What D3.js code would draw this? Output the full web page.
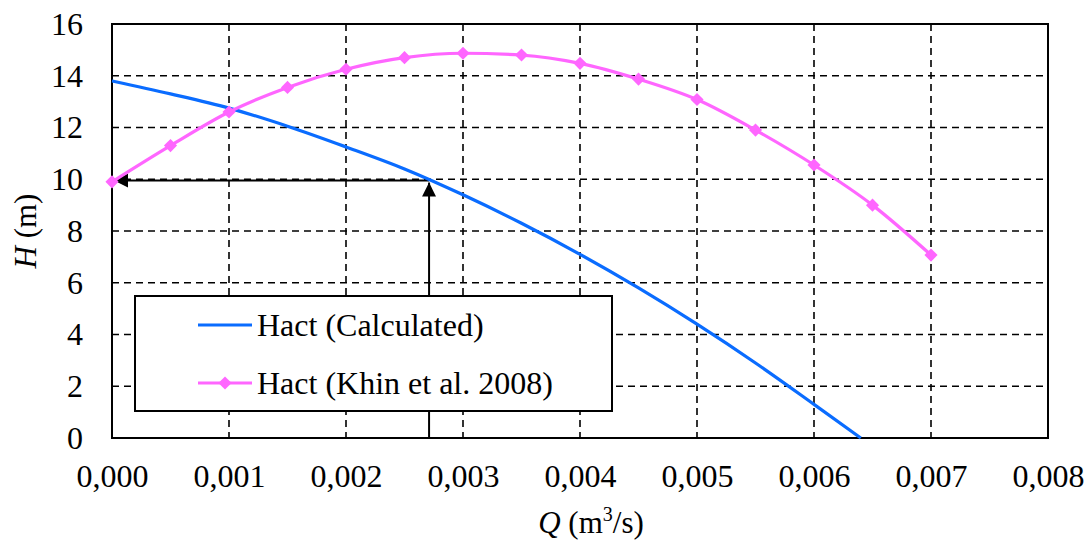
<!DOCTYPE html>
<html>
<head>
<meta charset="utf-8">
<script src="https://cdn.jsdelivr.net/npm/d3@7"></script>
<style>
  html, body { margin: 0; padding: 0; background: #fff; }
  svg { display: block; }
  svg text { font-family: 'Liberation Serif', 'Times New Roman', Times, serif !important; fill: #000; }
</style>
</head>
<body>
<svg id="chart" width="1088" height="543"></svg>
<script>
// Pump head H (m) against flow Q (m³/s)
const qCalc = [0, 0.0005, 0.001, 0.0015, 0.002, 0.0025, 0.003, 0.0035, 0.004, 0.0045, 0.005, 0.0055, 0.006, 0.0064];
const hCalc = [13.8, 13.3, 12.75, 12.05, 11.25, 10.4, 9.4, 8.3, 7.1, 5.8, 4.4, 2.9, 1.3, 0];

const qKhin = [0, 0.0005, 0.001, 0.0015, 0.002, 0.0025, 0.003, 0.0035, 0.004, 0.0045, 0.005, 0.0055, 0.006, 0.0065, 0.007];
const hKhin = [9.9, 11.3, 12.6, 13.55, 14.25, 14.7, 14.87, 14.8, 14.48, 13.87, 13.08, 11.9, 10.55, 9.0, 7.07];

const xTicks = [0, 0.001, 0.002, 0.003, 0.004, 0.005, 0.006, 0.007, 0.008];
const yTicks = [0, 2, 4, 6, 8, 10, 12, 14, 16];

// Operating point
const opQ = 0.00271;
const opH = 9.95;

const seriesNames = ["Hact (Calculated)", "Hact (Khin et al. 2008)"];
const colCalc = "#0a6cff";
const colKhin = "#ff66ff";

const svg = d3.select("#chart");
const m = { left: 112, right: 1048, top: 24, bottom: 438 };

const x = d3.scaleLinear().domain([0, 0.008]).range([m.left, m.right]);
const y = d3.scaleLinear().domain([0, 16]).range([m.bottom, m.top]);

const fmtX = v => d3.format(".3f")(v).replace(".", ",");

// Dashed grid
const grid = svg.append("g");
grid.selectAll(".gx").data(xTicks.slice(1, -1)).join("line")
  .attr("x1", d => x(d)).attr("x2", d => x(d))
  .attr("y1", m.top).attr("y2", m.bottom)
  .attr("stroke", "#000").attr("stroke-width", 1.6).attr("stroke-dasharray", "7,5");
grid.selectAll(".gy").data(yTicks.slice(1, -1)).join("line")
  .attr("y1", d => y(d)).attr("y2", d => y(d))
  .attr("x1", m.left).attr("x2", m.right)
  .attr("stroke", "#000").attr("stroke-width", 1.6).attr("stroke-dasharray", "7,5");

// Plot frame
svg.append("rect")
  .attr("x", m.left).attr("y", m.top)
  .attr("width", m.right - m.left).attr("height", m.bottom - m.top)
  .attr("fill", "none").attr("stroke", "#000").attr("stroke-width", 2);

// Axes (labels only; frame draws the lines)
const xAxis = svg.append("g").attr("transform", `translate(0,${m.bottom})`)
  .call(d3.axisBottom(x).tickValues(xTicks).tickFormat(fmtX).tickSize(0).tickPadding(26));
xAxis.select(".domain").remove();
xAxis.attr("font-family", null).attr("font-size", null);
xAxis.selectAll("text").style("font-size", "32px");

const yAxis = svg.append("g").attr("transform", `translate(${m.left},0)`)
  .call(d3.axisLeft(y).tickValues(yTicks).tickFormat(d3.format("d")).tickSize(0).tickPadding(29));
yAxis.select(".domain").remove();
yAxis.attr("font-family", null).attr("font-size", null);
yAxis.selectAll("text").style("font-size", "32px");

// Axis titles
const yTitle = svg.append("text")
  .attr("transform", `translate(36,${(m.top + m.bottom) / 2}) rotate(-90)`)
  .attr("text-anchor", "middle").style("font-size", "31px");
yTitle.append("tspan").style("font-style", "italic").text("H");
yTitle.append("tspan").text(" (m)");

const xTitle = svg.append("text")
  .attr("x", (m.left + m.right) / 2 + 11).attr("y", 533)
  .attr("text-anchor", "middle").style("font-size", "31px");
xTitle.append("tspan").style("font-style", "italic").text("Q");
xTitle.append("tspan").text(" (m");
xTitle.append("tspan").attr("dy", -12).style("font-size", "20px").text("3");
xTitle.append("tspan").attr("dy", 12).text("/s)");

// Series
const line = d3.line().x(d => x(d[0])).y(d => y(d[1])).curve(d3.curveMonotoneX);
const calcPts = qCalc.map((q, i) => [q, hCalc[i]]);
const khinPts = qKhin.map((q, i) => [q, hKhin[i]]);

// Operating point arrows
const defs = svg.append("defs");
defs.append("marker").attr("id", "arrowhead")
  .attr("viewBox", "0 0 10 10").attr("refX", 10).attr("refY", 5)
  .attr("markerWidth", 16).attr("markerHeight", 14).attr("markerUnits", "userSpaceOnUse")
  .attr("orient", "auto")
  .append("path").attr("d", "M0,0 L10,5 L0,10 Z").attr("fill", "#000");

svg.append("line")
  .attr("x1", x(opQ)).attr("y1", y(opH))
  .attr("x2", x(0) + 2).attr("y2", y(opH))
  .attr("stroke", "#000").attr("stroke-width", 2).attr("marker-end", "url(#arrowhead)");
svg.append("line")
  .attr("x1", x(opQ)).attr("y1", y(0))
  .attr("x2", x(opQ)).attr("y2", y(opH) + 2)
  .attr("stroke", "#000").attr("stroke-width", 2).attr("marker-end", "url(#arrowhead)");

svg.append("path").datum(calcPts)
  .attr("d", line).attr("fill", "none")
  .attr("stroke", colCalc).attr("stroke-width", 3.2);

svg.append("path").datum(khinPts)
  .attr("d", line).attr("fill", "none")
  .attr("stroke", colKhin).attr("stroke-width", 3.2);

const diamond = d3.symbol().type(d3.symbolDiamond2).size(110);
svg.append("g").selectAll("path").data(khinPts).join("path")
  .attr("transform", d => `translate(${x(d[0])},${y(d[1])})`)
  .attr("d", diamond).attr("fill", colKhin);

// Legend
const lg = svg.append("g");
lg.append("rect")
  .attr("x", 135).attr("y", 296).attr("width", 477).attr("height", 115)
  .attr("fill", "#fff").attr("stroke", "#000").attr("stroke-width", 2);

const legendRows = [
  { name: seriesNames[0], color: colCalc, marker: false, cy: 325 },
  { name: seriesNames[1], color: colKhin, marker: true, cy: 383 }
];
legendRows.forEach(r => {
  lg.append("line").attr("x1", 198).attr("x2", 252).attr("y1", r.cy).attr("y2", r.cy)
    .attr("stroke", r.color).attr("stroke-width", 3.2);
  if (r.marker) {
    lg.append("path").attr("transform", `translate(225,${r.cy})`)
      .attr("d", diamond).attr("fill", r.color);
  }
  lg.append("text").attr("x", 257).attr("y", r.cy + 11)
    .style("font-size", "32px").text(r.name);
});
</script>
</body>
</html>
